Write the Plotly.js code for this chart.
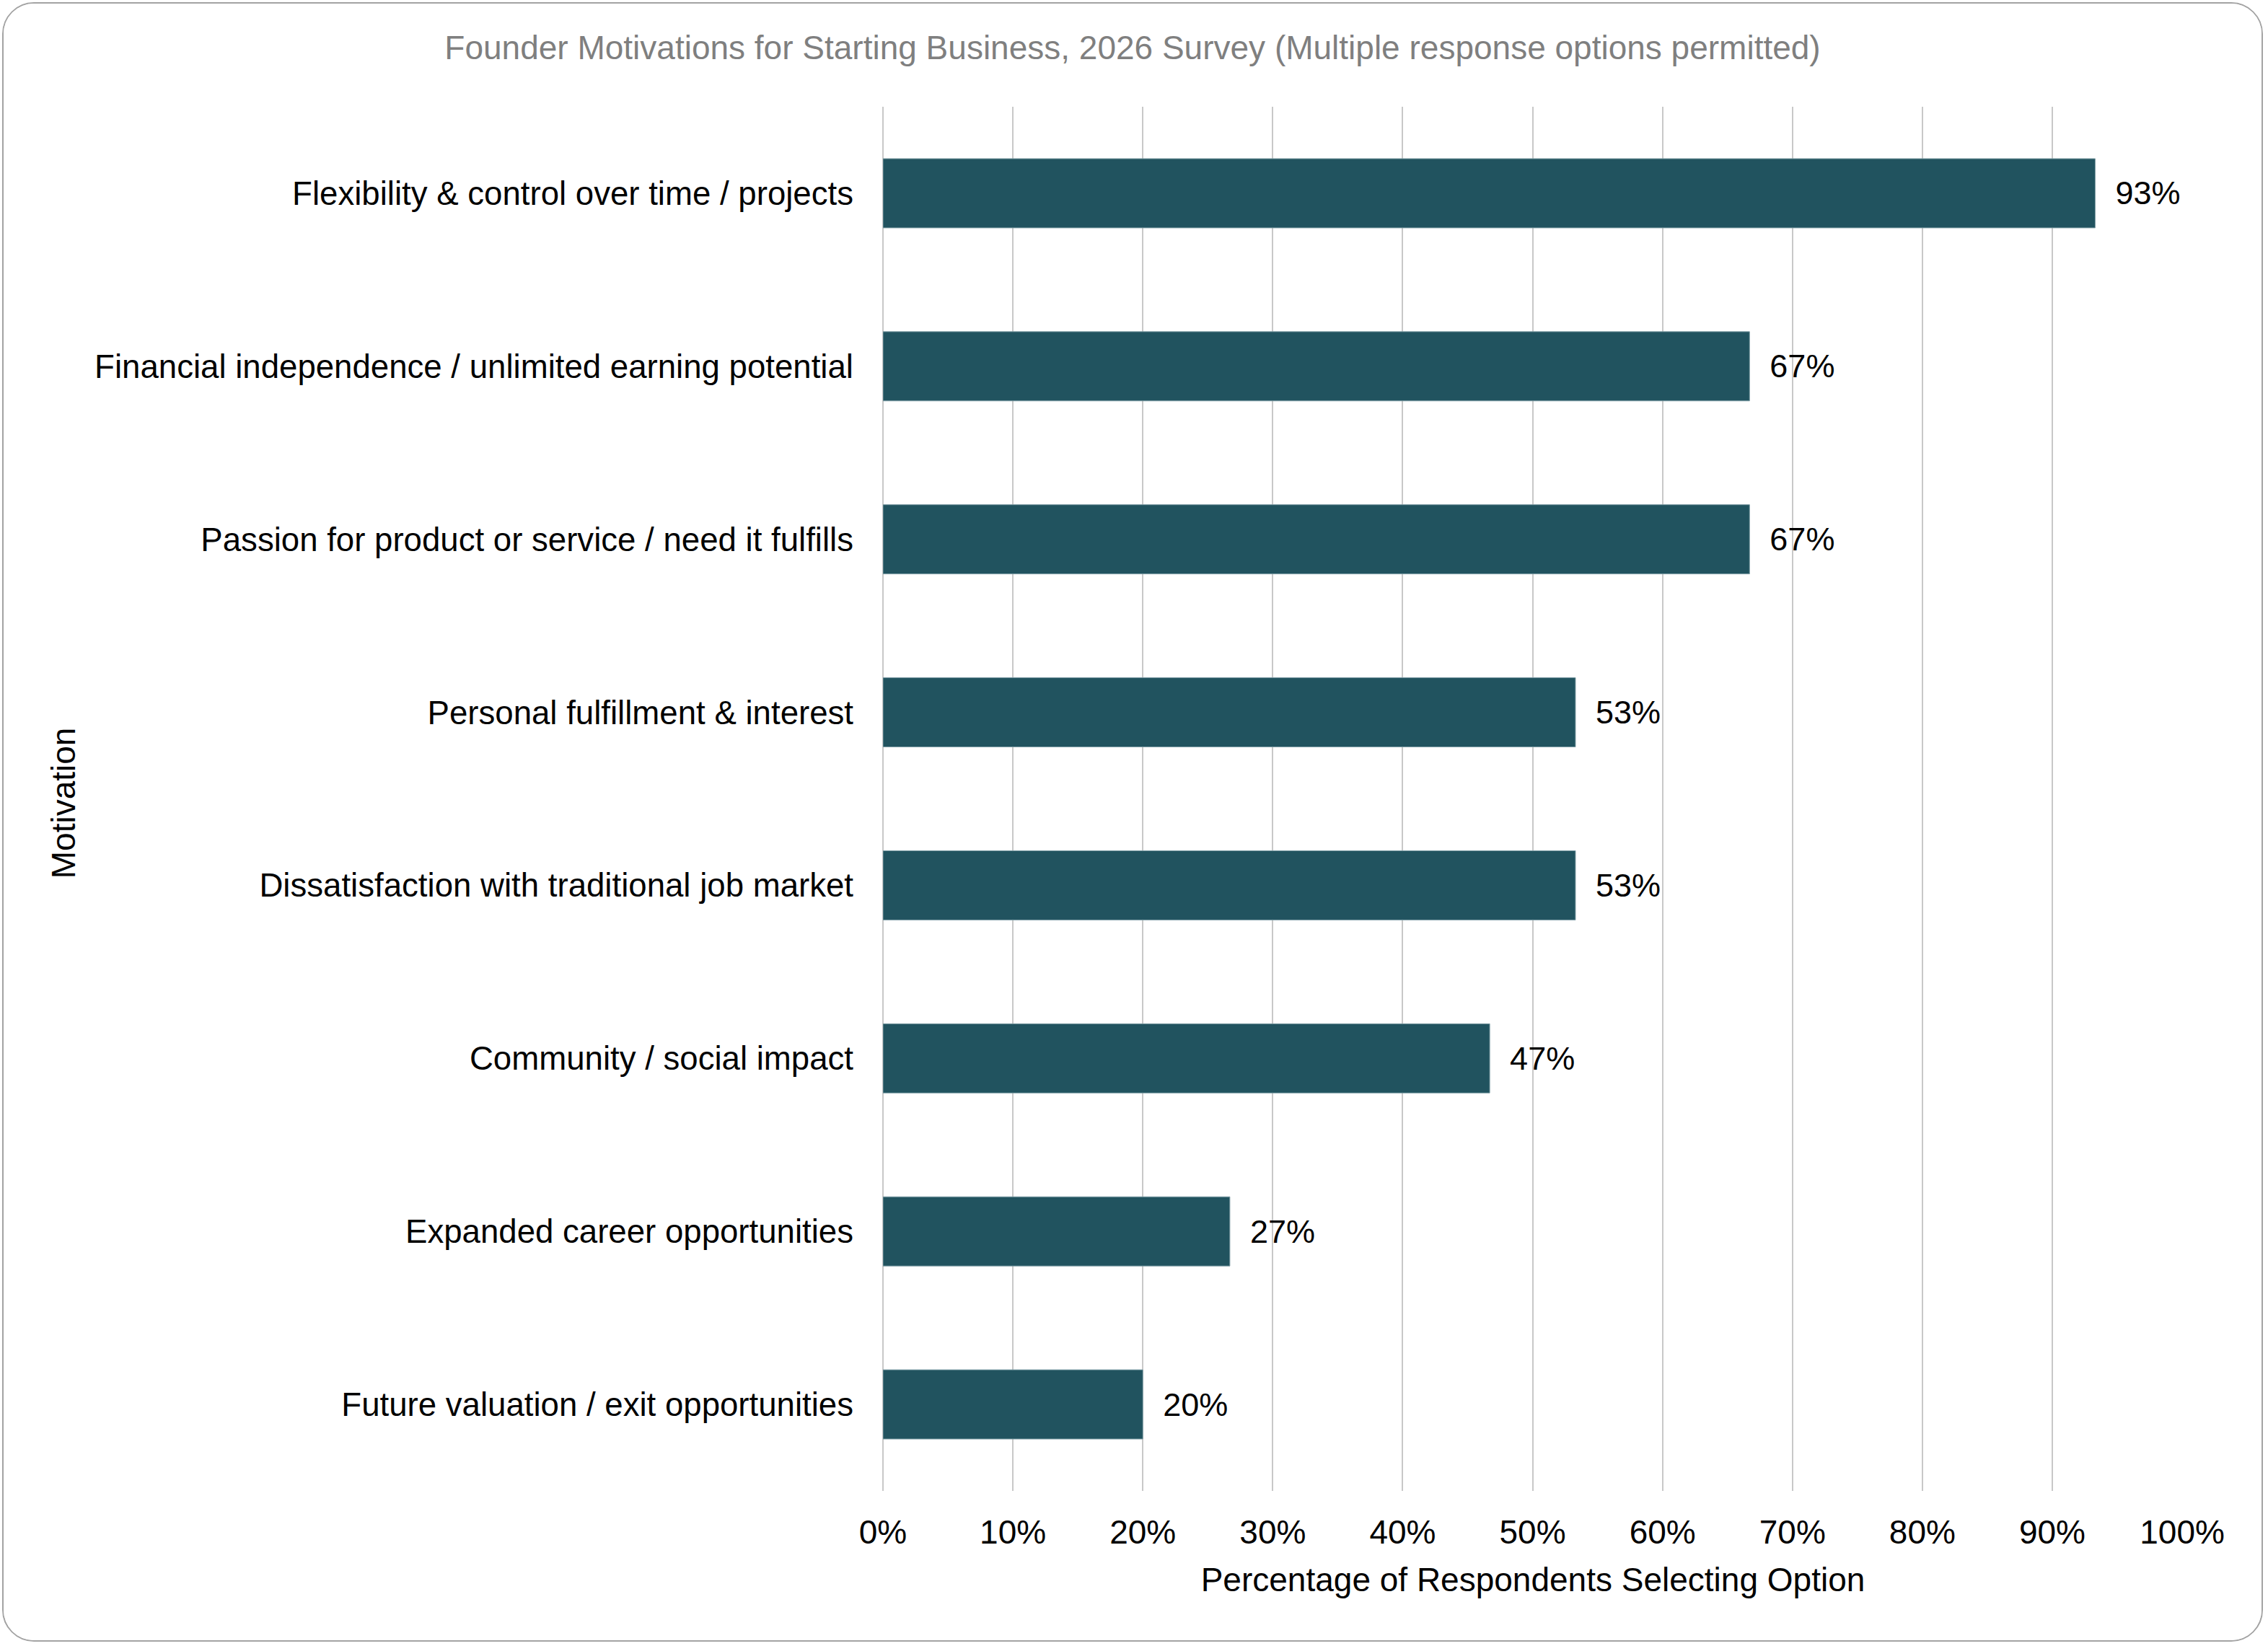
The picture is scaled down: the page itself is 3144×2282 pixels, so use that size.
<!DOCTYPE html>
<html>
<head>
<meta charset="utf-8">
<script src="https://cdn.plot.ly/plotly-3.0.1.min.js"></script>
<style>
    body{ margin: 0; background: #ffffff; }
    #frame{
        position: absolute;
        left: 3px; top: 3px;
        width: 3130px; height: 2269px;
        border: 2px solid #a3a3a3;
        border-radius: 44px;
        overflow: hidden;
    }
</style>
</head>
<body>
<div id="frame"><div id="graph"></div></div>
<script>
// Survey data (top to bottom)
let motivations = [
    "Flexibility & control over time / projects",
    "Financial independence / unlimited earning potential",
    "Passion for product or service / need it fulfills",
    "Personal fulfillment & interest",
    "Dissatisfaction with traditional job market",
    "Community / social impact",
    "Expanded career opportunities",
    "Future valuation / exit opportunities"
];
let percentSelected = [93.3, 66.7, 66.7, 53.3, 53.3, 46.7, 26.7, 20.0];
let xTickValues = [0, 10, 20, 30, 40, 50, 60, 70, 80, 90, 100];
let xTickLabels = ["0%", "10%", "20%", "30%", "40%", "50%", "60%", "70%", "80%", "90%", "100%"];

let fontFamily = "Liberation Sans, Arial, sans-serif";

let bars = {
    type: "bar",
    orientation: "h",
    y: motivations,
    x: percentSelected,
    width: 0.4,
    marker: {color: "#21535f", line: {color: "#7f9ea6", width: 1}},
    texttemplate: "\u00a0\u00a0%{x:.0f}%",
    textposition: "outside",
    cliponaxis: false,
    textfont: {family: fontFamily, size: 45, color: "#000000"},
    hoverinfo: "none"
};

let layout = {
    width: 3130,
    height: 2269,
    margin: {l: 1219, r: 109, t: 143, b: 207},
    paper_bgcolor: "#ffffff",
    plot_bgcolor: "#ffffff",
    showlegend: false,
    font: {family: fontFamily, size: 46, color: "#000000"},
    title: {
        text: "Founder Motivations for Starting Business, 2026 Survey (Multiple response options permitted)",
        font: {family: fontFamily, size: 46, color: "#7f7f7f"},
        x: 0.5, xanchor: "center",
        y: 1, yref: "container", yanchor: "top", pad: {t: 45}
    },
    xaxis: {
        range: [0, 100.05],
        tickvals: xTickValues,
        ticktext: xTickLabels,
        showgrid: true,
        gridcolor: "#c8c8c8",
        gridwidth: 2,
        zeroline: true,
        zerolinecolor: "#c8c8c8",
        zerolinewidth: 2,
        showline: false,
        ticks: "",
        ticklabelstandoff: 26,
        tickfont: {family: fontFamily, size: 46, color: "#000000"},
        title: {text: "Percentage of Respondents Selecting Option", standoff: 24, font: {family: fontFamily, size: 46, color: "#000000"}},
        fixedrange: true
    },
    yaxis: {
        type: "category",
        autorange: "reversed",
        showgrid: false,
        zeroline: false,
        showline: false,
        ticks: "",
        ticklabelstandoff: 40,
        tickfont: {family: fontFamily, size: 45.6, color: "#000000"},
        fixedrange: true
    },
    // y axis title placed by hand so it sits where the reference has it
    annotations: [{
        text: "Motivation",
        xref: "paper", yref: "paper",
        x: -0.6304, y: 0.497,
        xanchor: "center", yanchor: "middle",
        textangle: -90,
        showarrow: false,
        font: {family: fontFamily, size: 46, color: "#000000"}
    }],
    bargap: 0.6
};

Plotly.newPlot("graph", [bars], layout, {displayModeBar: false, staticPlot: true});
</script>
</body>
</html>
